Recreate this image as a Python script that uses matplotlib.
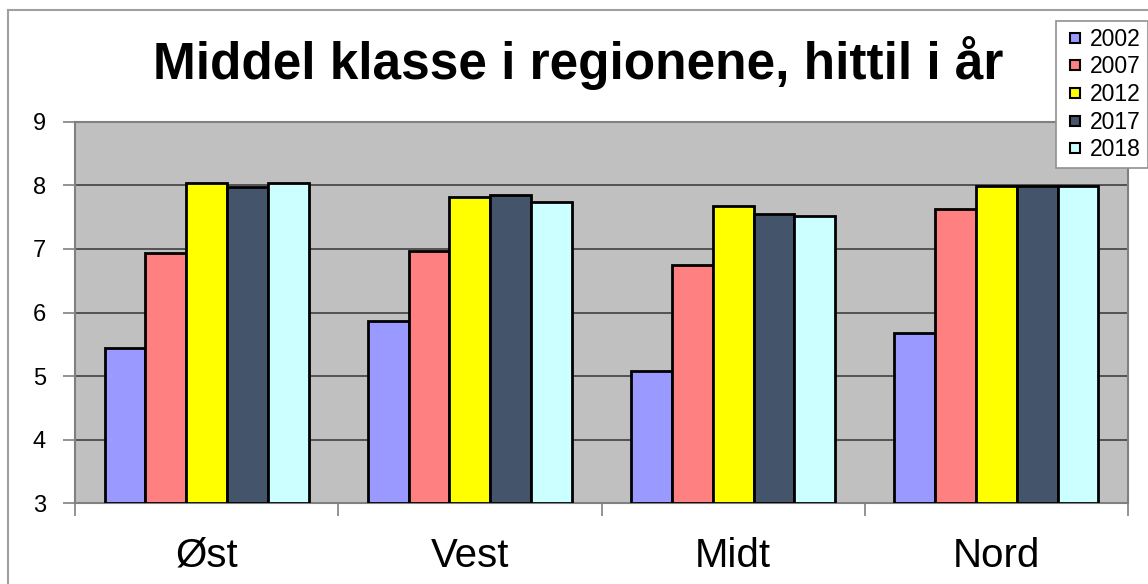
import matplotlib
matplotlib.use("Agg")
import matplotlib.pyplot as plt
from matplotlib.lines import Line2D
import numpy as np

plt.rcParams['font.family'] = ['Liberation Sans', 'DejaVu Sans']

categories = ["Øst", "Vest", "Midt", "Nord"]
years = ["2002", "2007", "2012", "2017", "2018"]
v2002 = [5.44, 5.87, 5.08, 5.67]
v2007 = [6.93, 6.96, 6.75, 7.63]
v2012 = [8.04, 7.82, 7.67, 7.99]
v2017 = [7.97, 7.85, 7.55, 7.99]
v2018 = [8.04, 7.73, 7.52, 7.99]
series = [v2002, v2007, v2012, v2017, v2018]
colors = ["#9999ff", "#ff8080", "#ffff00", "#44546a", "#ccffff"]
yticks = [3, 4, 5, 6, 7, 8, 9]

W, H = 1148, 584
fig = plt.figure(figsize=(W / 100, H / 100), dpi=100)
fig.patch.set_facecolor("white")

# chart area border (top and left visible)
fig.add_artist(Line2D([8 / W, 8 / W], [0, 1 - 10 / H], transform=fig.transFigure, color="#a0a0a0", lw=1.5))
fig.add_artist(Line2D([8 / W, 1], [1 - 10 / H, 1 - 10 / H], transform=fig.transFigure, color="#a0a0a0", lw=1.5))

ax = fig.add_axes([75 / W, 1 - 503.3 / H, (1128 - 75) / W, (503.3 - 121.7) / H])
ax.set_facecolor("#c0c0c0")

x = np.arange(len(categories))
bw = 0.155
for i, (vals, c, yr) in enumerate(zip(series, colors, years)):
    ax.bar(x + (i - 2) * bw, np.array(vals) - 3, bottom=3, width=bw, color=c,
           edgecolor="black", linewidth=2, label=yr, zorder=3)

ax.set_ylim(3, 9)
ax.set_xlim(-0.5, len(categories) - 0.5)
ax.set_yticks(yticks)
ax.set_yticklabels([str(t) for t in yticks], fontsize=17)
for t in yticks[1:-1]:
    ax.axhline(t, color="#404040", lw=1.2, zorder=1)

ax.set_xticks(np.arange(len(categories) + 1) - 0.5)
ax.set_xticklabels([])
ax.set_xticks(x, minor=True)
ax.set_xticklabels(categories, minor=True, fontsize=29)
ax.tick_params(axis="x", which="minor", length=0, pad=24)
ax.tick_params(axis="x", which="major", length=9, color="#808080", width=1.2, direction="out")
ax.tick_params(axis="y", length=9, color="#808080", width=1.2, direction="out", pad=12)

for s in ax.spines.values():
    s.set_color("#808080")
    s.set_linewidth(1.5)

fig.text(578 / W, 1 - 63 / H, "Middel klasse i regionene, hittil i år", ha="center", va="center",
         fontsize=37, fontweight="bold")

handles = [Line2D([], [], marker="s", ls="none", markersize=7.5, markerfacecolor=c,
                  markeredgecolor="black", markeredgewidth=1.5) for c in colors]
leg = fig.legend(handles, years, loc="upper right", bbox_to_anchor=(1.0, 1 - 21 / H), fontsize=16.5,
                 frameon=True, fancybox=False, edgecolor="#909090", framealpha=1,
                 handlelength=1.1, handletextpad=0.1, labelspacing=0.2,
                 borderpad=0.3, borderaxespad=0)
leg.get_frame().set_linewidth(1.2)

fig.savefig("out.png", dpi=100)
